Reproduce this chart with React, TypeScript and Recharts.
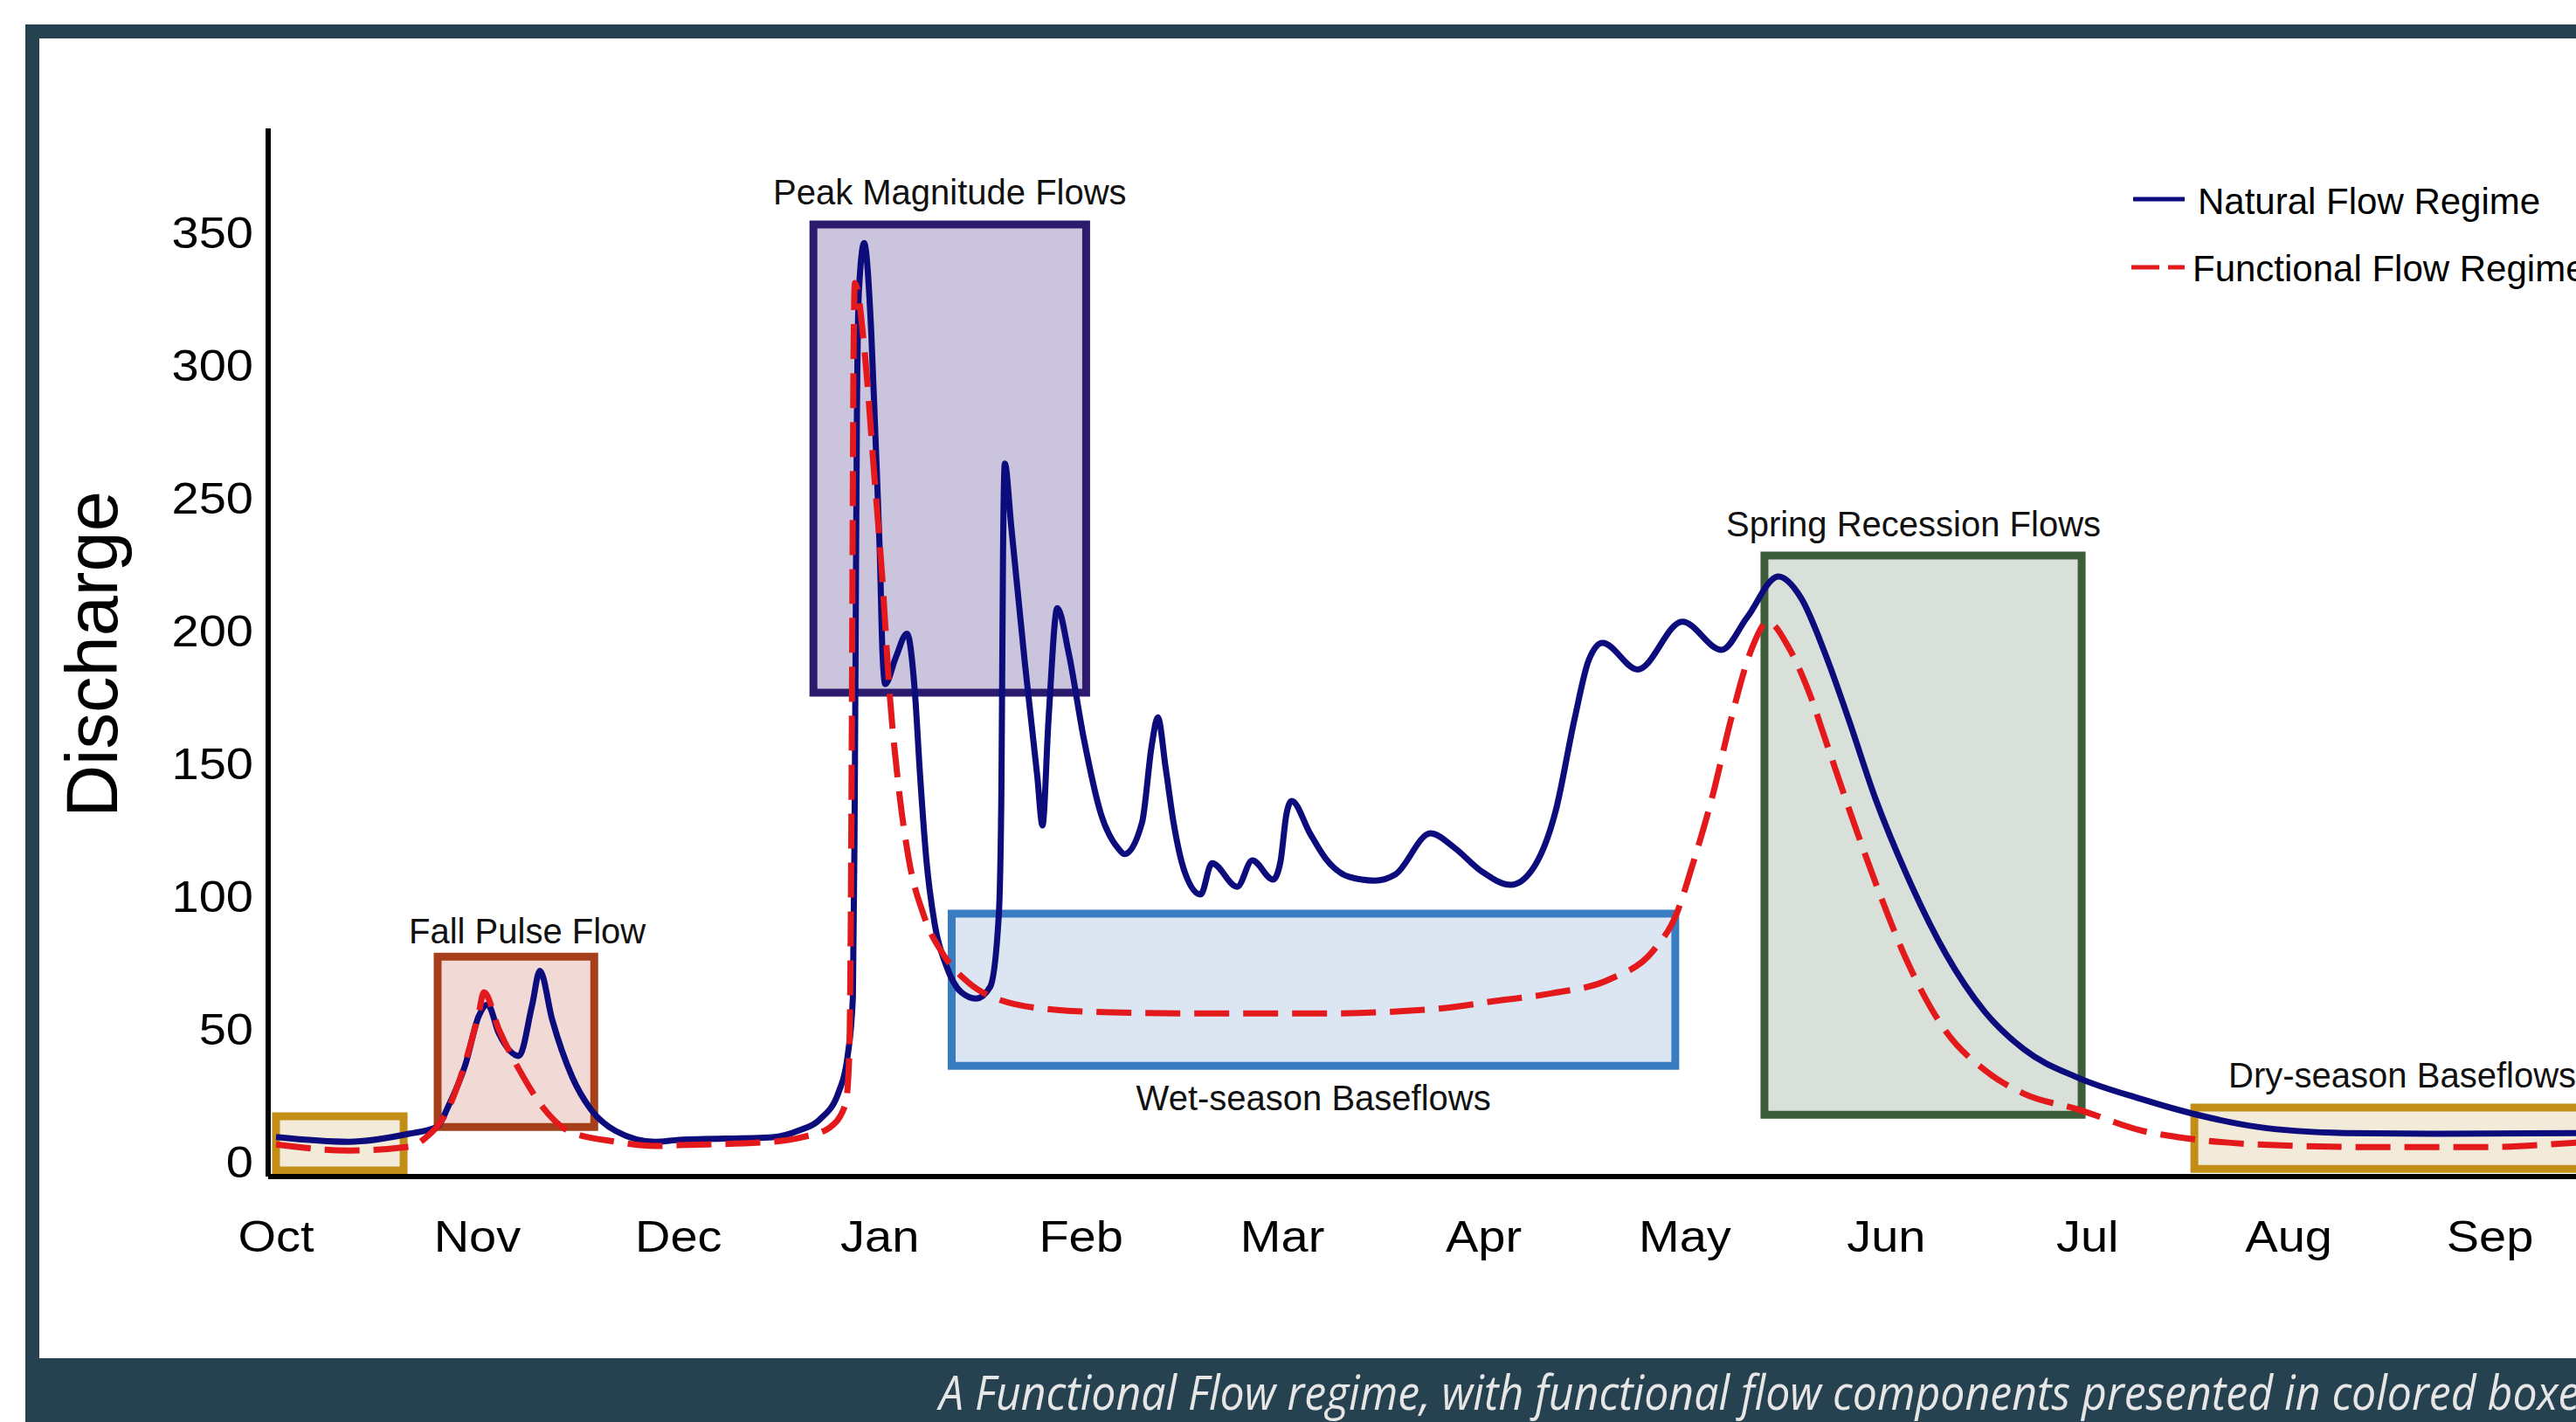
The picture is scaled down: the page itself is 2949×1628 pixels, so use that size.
import React from 'react';
import { LineChart, Line, XAxis, YAxis, ReferenceArea, Legend } from 'recharts';

// Functional flow regime figure: natural vs functional hydrograph over a water year,
// with the functional flow components boxed. x is in months from Oct (0) to Sep (11).

const FONT = '"Liberation Sans", Arial, Helvetica, sans-serif';
const FRAME = '#264150';
const NAVY = '#0c0c7c';
const RED = '#e3191c';

const MONTHS = ['Oct', 'Nov', 'Dec', 'Jan', 'Feb', 'Mar', 'Apr', 'May', 'Jun', 'Jul', 'Aug', 'Sep'];
const MONTH_TICKS = [0, 1, 2, 3, 4, 5, 6, 7, 8, 9, 10, 11];
const DISCHARGE_TICKS = [0, 50, 100, 150, 200, 250, 300, 350];

const naturalMonth = [
  0, 0.36, 0.66, 0.8, 0.855, 0.942, 1.007, 1.051, 1.107, 1.207, 1.272, 1.311, 1.372, 1.472, 1.563,
  1.689, 1.884, 2.002, 2.466, 2.6, 2.7, 2.796, 2.84, 2.866, 2.874, 2.88, 2.886, 2.896, 2.922, 2.957,
  2.979, 3.0, 3.013, 3.027, 3.079, 3.135, 3.174, 3.2, 3.231, 3.274, 3.33, 3.404, 3.478, 3.548, 3.591,
  3.604, 3.612, 3.621, 3.652, 3.721, 3.782, 3.808, 3.838, 3.882, 3.938, 4.012, 4.099, 4.186, 4.216,
  4.303, 4.351, 4.381, 4.42, 4.459, 4.516, 4.594, 4.65, 4.776, 4.85, 4.954, 4.99, 5.02, 5.046, 5.137,
  5.215, 5.332, 5.458, 5.562, 5.736, 5.853, 5.988, 6.135, 6.24, 6.357, 6.452, 6.522, 6.591, 6.765,
  6.987, 7.182, 7.308, 7.464, 7.577, 7.694, 7.812, 7.946, 8.103, 8.294, 8.489, 8.684, 8.953, 9.266,
  9.527, 9.844, 10.278, 10.712, 11.433, 12,
];
const naturalQ = [
  9.5, 7.7, 10.7, 13.3, 20.9, 37, 55, 59.4, 48.5, 40, 59, 72, 53.7, 32, 20,
  11.7, 7.7, 8.4, 9.4, 12, 16, 26.5, 40, 62, 120, 200, 280, 328, 346, 313,
  271.5, 229, 192, 180, 190, 199, 177, 145.5, 114, 89, 74, 64, 61.6, 66, 93,
  140, 229, 263, 240, 187.6, 145.5, 126.8, 166.5, 208.6, 191.8, 160, 131, 118, 116,
  128, 157, 167.5, 148.5, 128, 109, 100.8, 112.6, 103.7, 113.6, 106.4, 113, 131, 136, 123.8,
  114.3, 107.4, 106, 108.4, 123.8, 118.5, 109.6, 104.4, 110, 132, 167, 189, 195.5, 185.5,
  203.5, 192.9, 205, 220.5, 212.4, 192, 167, 137, 108, 78.7, 56.7, 42.5, 31.8, 23.8,
  18.2, 13.3, 11, 10.7, 11, 11.5,
];

const functionalMonth = [
  0, 0.36, 0.66, 0.74, 0.855, 0.942, 1.007, 1.033, 1.107, 1.207, 1.372, 1.454, 1.689, 1.884, 2.002,
  2.466, 2.62, 2.75, 2.83, 2.848, 2.858, 2.864, 2.869, 2.876, 2.927, 2.97, 3.013, 3.048, 3.087, 3.144,
  3.218, 3.317, 3.435, 3.578, 3.869, 4.155, 4.6, 5.2, 5.8, 6.049, 6.34, 6.63, 6.843, 6.961, 7.034,
  7.134, 7.23, 7.325, 7.412, 7.521, 7.616, 7.716, 7.829, 7.968, 8.103, 8.294, 8.489, 8.684, 8.953,
  9.279, 9.453, 9.844, 10.426, 11.003, 11.433, 12,
];
const functionalQ = [
  6.7, 4.4, 5.8, 9, 20, 38, 56, 64, 50, 35, 16.6, 11.7, 7.7, 6.1, 6.4,
  7.7, 9.5, 13, 22, 40, 120, 220, 300, 331, 303, 261, 219, 177, 145.5, 114,
  93, 78, 68, 61.6, 57.4, 56.4, 56, 56, 58, 60.6, 63.6, 69, 79.7, 94, 111,
  137, 167, 192, 203.4, 193, 177, 155, 130, 101, 75.8, 49.5, 34.7, 25.8, 19.9,
  11.7, 9.4, 6.7, 5.7, 5.7, 7.4, 10,
];

// functional flow components (boxes), in month / discharge units
const componentNames = ['', 'Fall Pulse Flow', 'Peak Magnitude Flows', 'Wet-season Baseflows', 'Spring Recession Flows', 'Dry-season Baseflows'];
const componentStart = [0, 0.803, 2.67, 3.357, 7.395, 9.531];
const componentEnd = [0.634, 1.581, 4.025, 6.952, 8.971, 12];
const componentLow = [-3.1, 13.3, 176.8, 36.3, 17.9, -2.5];
const componentHigh = [17.3, 77.4, 353, 93.6, 228.4, 20.6];

type BoxStyle = {
  stroke: string;
  fill: string;
  side: 'top' | 'bottom';
  anchor: 'middle' | 'start';
  dx: number;
  gap: number;
};

const BOX_STYLES: BoxStyle[] = [
  { stroke: '#c38e18', fill: '#f3ebd9', side: 'top', anchor: 'middle', dx: 0, gap: 20 },
  { stroke: '#a5401b', fill: '#f1dad6', side: 'top', anchor: 'middle', dx: 13, gap: 15 },
  { stroke: '#2c1a6c', fill: '#cbc4dd', side: 'top', anchor: 'middle', dx: 0, gap: 23 },
  { stroke: '#3a7cc2', fill: '#dce6f2', side: 'bottom', anchor: 'middle', dx: 0, gap: 51 },
  { stroke: '#3e5e3b', fill: '#d9dfd9', side: 'top', anchor: 'middle', dx: -11, gap: 22 },
  { stroke: '#c38e18', fill: '#f3ebd9', side: 'top', anchor: 'start', dx: 39, gap: 23 },
];

const zip = (xs: number[], ys: number[]) => xs.map((m, i) => ({ m, q: ys[i] }));
const natural = zip(naturalMonth, naturalQ);
const functional = zip(functionalMonth, functionalQ);

// the original's axis lettering is a little wider than Arial
const TICK_STRETCH = 1.12;

function MonthTick(props: any) {
  const { x, y, payload } = props;
  return (
    <g transform={`translate(${x},${y}) scale(${TICK_STRETCH},1)`}>
      <text x={0} y={0} dy="0.71em" textAnchor="middle" fontFamily={FONT} fontSize={50} fill="#000">
        {MONTHS[payload.value] ?? ''}
      </text>
    </g>
  );
}

function DischargeTick(props: any) {
  const { x, y, payload } = props;
  return (
    <g transform={`translate(${x},${y}) scale(${TICK_STRETCH},1)`}>
      <text x={0} y={0} dy="0.355em" textAnchor="end" fontFamily={FONT} fontSize={50} fill="#000">
        {payload.value}
      </text>
    </g>
  );
}

function boxLabel(text: string, s: BoxStyle) {
  return (props: any) => {
    if (!text) return null;
    const { x = 0, y = 0, width = 0, height = 0 } = props.viewBox ?? {};
    const tx = s.anchor === 'middle' ? x + width / 2 + s.dx : x + s.dx;
    const ty = s.side === 'top' ? y - s.gap : y + height + s.gap;
    return (
      <text x={tx} y={ty} textAnchor={s.anchor} fontFamily={FONT} fontSize={40} fill="#111">
        {text}
      </text>
    );
  };
}

function dischargeLabel(props: any) {
  const { x = 0, y = 0, height = 0 } = props.viewBox ?? {};
  const cx = x + 134;
  const cy = y + height / 2 + 2;
  return (
    <text x={cx} y={cy} textAnchor="middle" fontFamily={FONT} fontSize={83} fill="#000" transform={`rotate(-90 ${cx} ${cy})`}>
      Discharge
    </text>
  );
}

function FlowLegend() {
  return (
    <svg width={600} height={160} style={{ overflow: 'visible', display: 'block' }}>
      <line x1={12} y1={38} x2={71} y2={38} stroke={NAVY} strokeWidth={5} />
      <text x={86} y={55} fontFamily={FONT} fontSize={42} fill="#000">Natural Flow Regime</text>
      <line x1={10} y1={116} x2={42} y2={116} stroke={RED} strokeWidth={5} />
      <line x1={52} y1={116} x2={71} y2={116} stroke={RED} strokeWidth={5} />
      <text x={80} y={132} fontFamily={FONT} fontSize={42} fill="#000">Functional Flow Regime</text>
    </svg>
  );
}

export default function App() {
  const axisLine = { stroke: '#000', strokeWidth: 6 };
  return (
    <div style={{ position: 'absolute', left: 0, top: 0, width: 2949, height: 1628, overflow: 'hidden', background: '#fff' }}>
      <div style={{ position: 'absolute', left: 0, top: 0 }}>
        <LineChart width={3091} height={1556} margin={{ top: 147, right: 10, bottom: 0, left: 0 }}>
          <XAxis
            type="number"
            dataKey="m"
            domain={[-0.039, 12]}
            allowDataOverflow
            ticks={MONTH_TICKS}
            interval={0}
            height={209}
            tickSize={0}
            tickMargin={50}
            tickLine={false}
            axisLine={axisLine}
            tick={<MonthTick />}
          />
          <YAxis
            type="number"
            domain={[-5.4, 389.2]}
            allowDataOverflow
            ticks={DISCHARGE_TICKS}
            interval={0}
            width={307}
            tickSize={0}
            tickMargin={17}
            tickLine={false}
            axisLine={axisLine}
            tick={<DischargeTick />}
            label={{ content: dischargeLabel }}
          />
          {componentNames.map((name, i) => (
            <ReferenceArea
              key={i}
              x1={componentStart[i]}
              x2={componentEnd[i]}
              y1={componentLow[i]}
              y2={componentHigh[i]}
              stroke={BOX_STYLES[i].stroke}
              strokeWidth={9}
              fill={BOX_STYLES[i].fill}
              fillOpacity={1}
              ifOverflow="visible"
              label={{ content: boxLabel(name, BOX_STYLES[i]) }}
            />
          ))}
          <Line
            data={natural}
            dataKey="q"
            name="Natural Flow Regime"
            type="monotone"
            stroke={NAVY}
            strokeWidth={7}
            dot={false}
            activeDot={false}
            isAnimationActive={false}
          />
          <Line
            data={functional}
            dataKey="q"
            name="Functional Flow Regime"
            type="monotone"
            stroke={RED}
            strokeWidth={7}
            strokeDasharray="40 16"
            dot={false}
            activeDot={false}
            isAnimationActive={false}
          />
          <Legend
            content={() => <FlowLegend />}
            layout="horizontal"
            verticalAlign="middle"
            align="center"
            wrapperStyle={{ position: 'absolute', left: 2430, top: 190, width: 600, height: 160 }}
          />
        </LineChart>
      </div>
      <div style={{ position: 'absolute', left: 29, top: 28, width: 2920, height: 16, background: FRAME }} />
      <div style={{ position: 'absolute', left: 29, top: 28, width: 16, height: 1540, background: FRAME }} />
      <div style={{ position: 'absolute', left: 29, top: 1555, width: 2920, height: 73, background: FRAME }}>
        <svg width={2920} height={73} style={{ display: 'block' }}>
          <text
            x={1046}
            y={59}
            fontFamily='"Open Sans", sans-serif'
            fontStyle="italic"
            fontSize={54}
            fill="#e6e6e6"
            textLength={1900}
            lengthAdjust="spacingAndGlyphs"
          >
            A Functional Flow regime, with functional flow components presented in colored boxes
          </text>
        </svg>
      </div>
    </div>
  );
}
